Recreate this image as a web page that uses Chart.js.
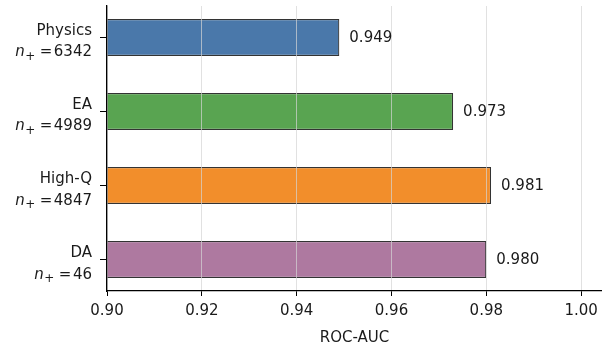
<!DOCTYPE html>
<html>
<head>
<meta charset="utf-8">
<script src="https://cdn.jsdelivr.net/npm/chart.js@4.4.1/dist/chart.umd.min.js"></script>
<style>
  html, body { margin: 0; padding: 0; background: #fff; }
  #wrap { width: 602px; height: 347px; }
</style>
</head>
<body>
<div id="wrap"><canvas id="auc"></canvas></div>
<script>
// data
const categories = ["Physics", "EA", "High-Q", "DA"];
const positives = [6342, 4989, 4847, 46];
const aucValues = [0.949, 0.973, 0.981, 0.980];
const xTicks = [0.90, 0.92, 0.94, 0.96, 0.98, 1.00];
const barColors = ["#4a78aa", "#59a451", "#f28e2b", "#ae79a0"];

const FONT = "'DejaVu Sans', sans-serif";
const TEXT = "#1a1a1a";

// value labels next to bars
const valueLabels = {
    id: "valueLabels",
    afterDraw: (chart) => {
        const ctx = chart.ctx;
        const meta = chart.getDatasetMeta(0);
        ctx.save();
        ctx.font = "15px " + FONT;
        ctx.fillStyle = TEXT;
        ctx.textAlign = "left";
        ctx.textBaseline = "middle";
        meta.data.forEach((bar, i) => {
            ctx.fillText(aucValues[i].toFixed(3), bar.x + 10, bar.y + 1);
        });
        ctx.restore();
    }
};

// second line of the y labels: n_+ = count (italic n, subscript +)
const countLabels = {
    id: "countLabels",
    afterDraw: (chart) => {
        const ctx = chart.ctx;
        const yScale = chart.scales.y;
        const right = yScale.right - 7 - 8;
        ctx.save();
        ctx.fillStyle = TEXT;
        ctx.textBaseline = "alphabetic";
        ctx.textAlign = "left";
        positives.forEach((n, i) => {
            const base = yScale.getPixelForValue(i) + 19;
            ctx.font = "15px " + FONT;
            const num = String(n);
            const wNum = ctx.measureText(num).width;
            let x = right - wNum;
            ctx.fillText(num, x, base);
            const wEq = ctx.measureText("=").width;
            x -= wEq + 1.5;
            ctx.fillText("=", x, base);
            ctx.font = "12px " + FONT;
            const wPlus = ctx.measureText("+").width;
            x -= 4.5 + wPlus;
            ctx.fillText("+", x, base + 3.3);
            ctx.font = "italic 15px " + FONT;
            const wN = ctx.measureText("n").width;
            x -= wN + 0.5;
            ctx.fillText("n", x, base);
        });
        ctx.restore();
    }
};

new Chart(document.getElementById("auc"), {
    type: "bar",
    data: {
        datasets: [{
            data: aucValues.map((v, i) => ({ x: v, y: i })),
            backgroundColor: barColors,
            borderColor: "#333333",
            borderWidth: 1.2,
            borderSkipped: false,
            barPercentage: 0.5,
            categoryPercentage: 1
        }]
    },
    options: {
        indexAxis: "y",
        responsive: true,
        maintainAspectRatio: false,
        animation: false,
        layout: { padding: { top: 6, right: 0, left: 0, bottom: 0 } },
        plugins: {
            legend: { display: false },
            tooltip: { enabled: false }
        },
        scales: {
            x: {
                type: "linear",
                min: 0.9,
                max: 1.0044,
                afterBuildTicks: (scale) => {
                    scale.ticks = xTicks.map(v => ({ value: v }));
                },
                afterFit: (scale) => {
                    scale.height = 56;
                    scale.paddingLeft = 0;
                    scale.paddingRight = 0;
                },
                ticks: {
                    color: TEXT,
                    font: { family: FONT, size: 15 },
                    padding: 6,
                    maxRotation: 0,
                    callback: (v) => Number(v).toFixed(2)
                },
                grid: {
                    z: 1,
                    color: "rgba(212,212,212,0.7)",
                    lineWidth: 1,
                    tickColor: "#000",
                    tickLength: 5
                },
                border: { display: true, color: "#000", width: 1.3, z: 2 },
                title: {
                    display: true,
                    text: "ROC-AUC",
                    color: TEXT,
                    font: { family: FONT, size: 15 },
                    padding: { top: 2, bottom: 0 }
                }
            },
            y: {
                type: "linear",
                reverse: true,
                offset: false,
                min: -0.425,
                max: 3.425,
                afterBuildTicks: (scale) => {
                    scale.ticks = categories.map((c, i) => ({ value: i }));
                },
                afterFit: (scale) => {
                    scale.width = 107;
                    scale.paddingTop = 0;
                    scale.paddingBottom = 0;
                },
                ticks: {
                    color: TEXT,
                    font: { family: FONT, size: 15 },
                    padding: 8,
                    labelOffset: -6,
                    autoSkip: false,
                    callback: (v) => categories[v]
                },
                grid: {
                    offset: false,
                    drawOnChartArea: false,
                    tickColor: "#000",
                    tickLength: 7
                },
                border: { display: true, color: "#000", width: 1.3, z: 2 }
            }
        }
    },
    plugins: [valueLabels, countLabels]
});
</script>
</body>
</html>
